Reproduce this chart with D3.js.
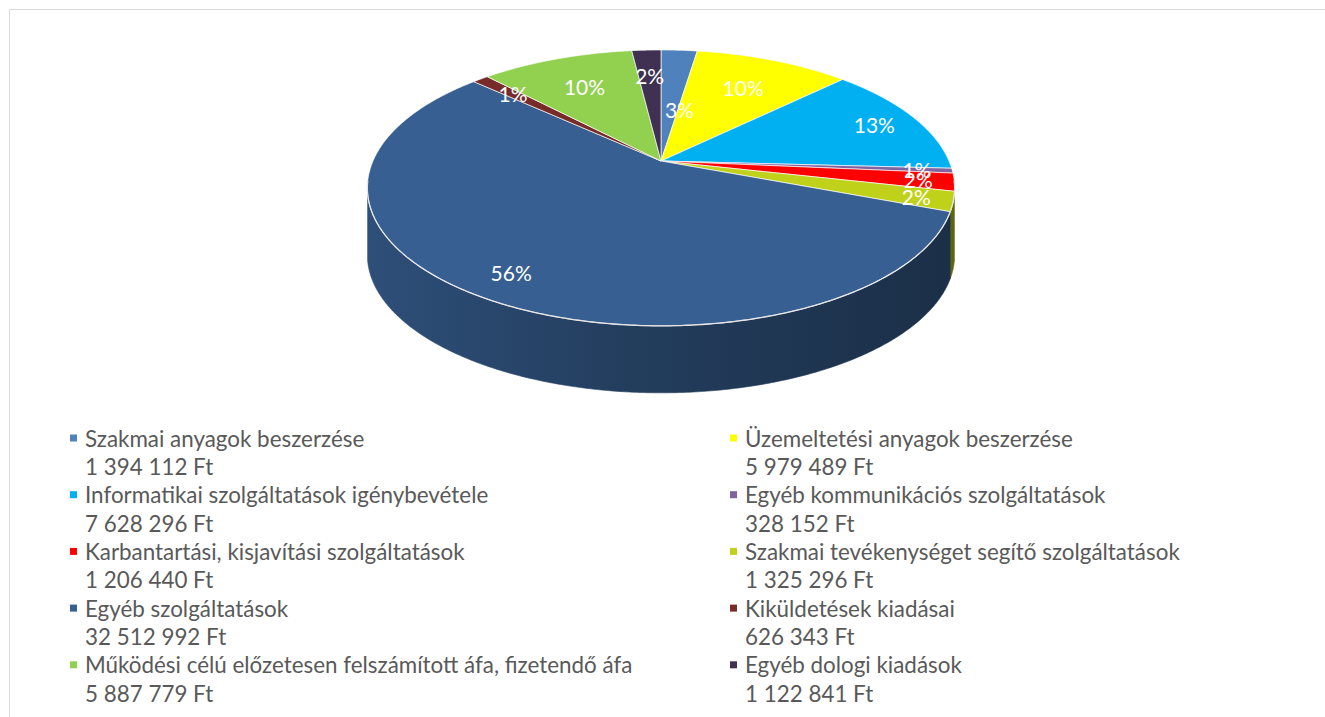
<!DOCTYPE html>
<html>
<head>
<meta charset="utf-8">
<script src="https://cdn.jsdelivr.net/npm/d3@7/dist/d3.min.js"></script>
<style>
  body { margin: 0; background: #fff; }
  svg { display: block; }
  text { font-family: Lato, "Noto Sans", sans-serif; }
</style>
</head>
<body>
<div id="chart"></div>
<script>
// ── Data ──────────────────────────────────────────────────────────────────────
const categories = [
  'Szakmai anyagok beszerzése',
  'Üzemeltetési anyagok beszerzése',
  'Informatikai szolgáltatások igénybevétele',
  'Egyéb kommunikációs szolgáltatások',
  'Karbantartási, kisjavítási szolgáltatások',
  'Szakmai tevékenységet segítő szolgáltatások',
  'Egyéb szolgáltatások',
  'Kiküldetések kiadásai',
  'Működési célú előzetesen felszámított áfa, fizetendő áfa',
  'Egyéb dologi kiadások'
];
const values = [1394112, 5979489, 7628296, 328152, 1206440, 1325296, 32512992, 626343, 5887779, 1122841];
const colors = ['#4F81BD', '#FFFF00', '#00B0F0', '#8064A2', '#FF0000', '#BFD118', '#375F91', '#772C2A', '#92D050', '#403152'];

// ── Layout ────────────────────────────────────────────────────────────────────
const W = 1325, H = 717;
const cx = 661, cy = 161;      // where slices meet
const A = 288, B = 132.7;      // projected radii
const K = 0.195;               // perspective strength
const thick = 67;              // wall height
const labelRadius = [0.42, 0.7, 0.82, 0.88, 0.88, 0.88, 0.85, 0.8, 0.7, 0.74];
const labelNudge = [10, 0, 4, 0, 0, 0, 0, 0, 0, 0];

const svg = d3.select('#chart').append('svg')
  .attr('width', W).attr('height', H);

// chart area border
svg.append('rect')
  .attr('x', 9.5).attr('y', 9.5)
  .attr('width', W + 20).attr('height', H + 20)
  .attr('fill', 'none')
  .attr('stroke', '#D9D9D9');

// ── Projection helpers ────────────────────────────────────────────────────────
function project(a, r = 1, drop = 0) {
  const u = Math.sin(a) * r, v = -Math.cos(a) * r;
  const w = 1 - K * v;
  return [cx + A * u / w, cy + B * v / w + drop];
}
function arcPoints(a0, a1, drop = 0) {
  const n = Math.max(2, Math.ceil(Math.abs(a1 - a0) / 0.01));
  return d3.range(n + 1).map(i => project(a0 + (a1 - a0) * i / n, 1, drop));
}
const line = d3.line();

const pie = d3.pie().sort(null).value(d => d.value);
const arcs = pie(values.map((v, i) => ({ value: v, i })));

// rounded percentages (largest remainder, so they sum to 100)
const total = d3.sum(values);
const raw = values.map(v => v / total * 100);
const pct = raw.map(Math.floor);
d3.range(values.length)
  .sort((a, b) => (raw[b] - pct[b]) - (raw[a] - pct[a]))
  .slice(0, 100 - d3.sum(pct))
  .forEach(i => pct[i] += 1);

// ── Gradient for the wall ─────────────────────────────────────────────────────
const defs = svg.append('defs');
const wallGrad = (id, base) => {
  const g = defs.append('linearGradient')
    .attr('id', id)
    .attr('gradientUnits', 'userSpaceOnUse')
    .attr('x1', cx - A * 1.02).attr('x2', cx + A * 1.02)
    .attr('y1', 0).attr('y2', 0);
  const c = d3.color(base);
  g.append('stop').attr('offset', '0%').attr('stop-color', c.darker(0.5));
  g.append('stop').attr('offset', '45%').attr('stop-color', c.darker(1.25));
  g.append('stop').attr('offset', '100%').attr('stop-color', c.darker(2.0));
};
colors.forEach((c, i) => wallGrad('wall' + i, c));

// ── Walls (front half only) ───────────────────────────────────────────────────
const aR = Math.acos(-K) + 0.04, aL = 2 * Math.PI - aR;
const wallG = svg.append('g');
arcs.forEach(d => {
  const a0 = Math.max(d.startAngle, aR), a1 = Math.min(d.endAngle, aL);
  if (a0 >= a1) return;
  const pts = arcPoints(a0, a1).concat(arcPoints(a1, a0, thick));
  wallG.append('path')
    .attr('d', line(pts) + 'Z')
    .attr('fill', `url(#wall${d.data.i})`)
    .attr('stroke', `url(#wall${d.data.i})`)
    .attr('stroke-width', 0.6);
});

// ── Top faces ─────────────────────────────────────────────────────────────────
const topG = svg.append('g');
arcs.forEach(d => {
  const pts = [[cx, cy]].concat(arcPoints(d.startAngle, d.endAngle));
  topG.append('path')
    .attr('d', line(pts) + 'Z')
    .attr('fill', colors[d.data.i])
    .attr('stroke', 'rgba(255,255,255,0.75)')
    .attr('stroke-width', 0.9)
    .attr('stroke-linejoin', 'round');
});

// light rim along the front edge
svg.append('path')
  .attr('d', line(arcPoints(aR - 0.09, aL + 0.09)))
  .attr('fill', 'none')
  .attr('stroke', '#E6E6E6')
  .attr('stroke-width', 1.3);

// ── Percentage labels ─────────────────────────────────────────────────────────
const labelPos = d => project((d.startAngle + d.endAngle) / 2, labelRadius[d.data.i]);
svg.append('g').selectAll('text')
  .data(arcs)
  .join('text')
  .attr('x', d => labelPos(d)[0] + labelNudge[d.data.i])
  .attr('y', d => labelPos(d)[1])
  .attr('text-anchor', 'middle')
  .attr('dominant-baseline', 'central')
  .attr('fill', '#fff')
  .attr('font-size', 21)
  .text(d => pct[d.data.i] + '%');

// ── Legend ────────────────────────────────────────────────────────────────────
const huf = d3.formatLocale({ decimal: ',', thousands: ' ', grouping: [3], currency: ['', ' Ft'] }).format('$,.0f');
const colX = d3.scaleOrdinal().domain([0, 1]).range([85, 745]);
const rowY = d3.scaleLinear().domain([0, 1]).range([438, 494.7]);

const items = svg.append('g').selectAll('g')
  .data(categories.map((c, i) => ({ name: c, value: values[i], i })))
  .join('g')
  .attr('transform', d => `translate(${colX(d.i % 2)},${rowY(Math.floor(d.i / 2))})`);

items.append('rect')
  .attr('x', -15).attr('y', -3.5)
  .attr('width', 7).attr('height', 7)
  .attr('fill', d => colors[d.i]);

items.append('text')
  .attr('dominant-baseline', 'central')
  .attr('fill', '#595959')
  .attr('font-size', 22.4)
  .text(d => d.name);

items.append('text')
  .attr('y', 28.4)
  .attr('dominant-baseline', 'central')
  .attr('fill', '#595959')
  .attr('font-size', 22.4)
  .text(d => huf(d.value));
</script>
</body>
</html>
